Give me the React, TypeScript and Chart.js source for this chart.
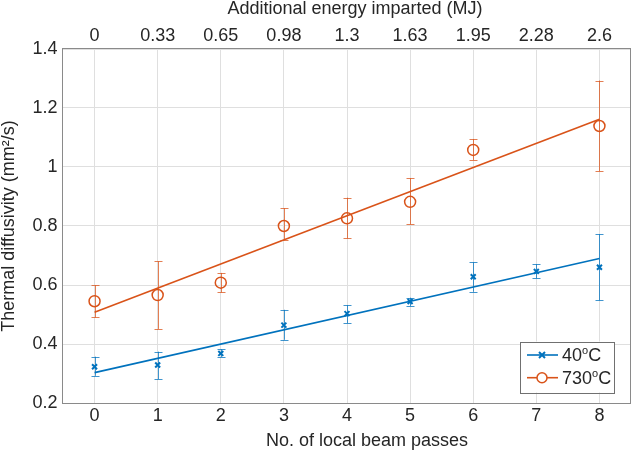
import React, { useEffect, useRef } from 'react';
import { Chart, registerables } from 'chart.js';

Chart.register(...registerables);

// ---------- data ----------
const passes = [0, 1, 2, 3, 4, 5, 6, 7, 8];
const energyLabels = ['0', '0.33', '0.65', '0.98', '1.3', '1.63', '1.95', '2.28', '2.6'];
const yTicks = [0.2, 0.4, 0.6, 0.8, 1.0, 1.2, 1.4];

const x40 = [0, 1, 2, 3, 4, 5, 6, 7, 8];
const mean40 = [0.323, 0.329, 0.368, 0.464, 0.503, 0.544, 0.628, 0.646, 0.660];
const low40 = [0.292, 0.281, 0.356, 0.414, 0.471, 0.529, 0.577, 0.623, 0.548];
const high40 = [0.357, 0.374, 0.382, 0.516, 0.531, 0.557, 0.677, 0.670, 0.772];

const x730 = [0, 1, 2, 3, 4, 5, 6, 8];
const mean730 = [0.545, 0.566, 0.608, 0.800, 0.826, 0.882, 1.058, 1.139];
const low730 = [0.490, 0.451, 0.575, 0.753, 0.758, 0.806, 1.024, 0.986];
const high730 = [0.599, 0.680, 0.641, 0.860, 0.896, 0.962, 1.095, 1.293];

const fitX = [0, 8];
const fit40 = [0.303, 0.690];
const fit730 = [0.508, 1.162];

const xTitle = 'No. of local beam passes';
const x2Title = 'Additional energy imparted (MJ)';
const yTitle = 'Thermal diffusivity (mm\u00B2/s)';
const legendEntries = [
  { base: '40', sup: 'o', unit: 'C' },
  { base: '730', sup: 'o', unit: 'C' },
];

// ---------- styles ----------
const BLUE = '#0072BD';
const ORANGE = '#D95319';
const BLUE_ERR = 'rgba(0,114,189,0.75)';
const ORANGE_ERR = 'rgba(217,83,25,0.75)';
const FONT = '"Liberation Sans", Arial, Helvetica, sans-serif';
const TEXT = '#262626';
const GRID = '#dfdfdf';
const FRAME = '#8a8a8a';

const errorBarPlugin = {
  id: 'errorBars',
  beforeDatasetsDraw(chart: any) {
    const { ctx } = chart;
    const xs = chart.scales.x;
    const ys = chart.scales.y;
    chart.data.datasets.forEach((ds: any) => {
      if (!ds.errLow) return;
      ctx.save();
      ctx.strokeStyle = ds.errColor;
      ctx.lineWidth = 1;
      ds.data.forEach((p: any, j: number) => {
        const px = Math.round(xs.getPixelForValue(p.x)) + 0.5;
        const yl = ys.getPixelForValue(ds.errLow[j]);
        const yh = ys.getPixelForValue(ds.errHigh[j]);
        ctx.beginPath();
        ctx.moveTo(px, yl);
        ctx.lineTo(px, yh);
        ctx.moveTo(px - 4, Math.round(yl) + 0.5);
        ctx.lineTo(px + 4, Math.round(yl) + 0.5);
        ctx.moveTo(px - 4, Math.round(yh) + 0.5);
        ctx.lineTo(px + 4, Math.round(yh) + 0.5);
        ctx.stroke();
      });
      ctx.restore();
    });
  },
};

const framePlugin = {
  id: 'frame',
  beforeDatasetsDraw(chart: any) {
    const { ctx, chartArea: a } = chart;
    ctx.save();
    ctx.strokeStyle = FRAME;
    ctx.lineWidth = 1;
    ctx.strokeRect(a.left - 0.5, a.top - 0.5, a.right - a.left, a.bottom - a.top + 1);
    ctx.restore();
  },
};

const titlesPlugin = {
  id: 'axisTitles',
  afterDraw(chart: any) {
    const { ctx, chartArea: a, height } = chart;
    const cx = (a.left + a.right) / 2;
    const cy = (a.top + a.bottom) / 2;
    ctx.save();
    ctx.fillStyle = TEXT;
    ctx.font = `18px ${FONT}`;
    ctx.textAlign = 'center';
    ctx.textBaseline = 'alphabetic';
    ctx.fillText(x2Title, cx + 8, 14);
    ctx.fillText(xTitle, cx + 20, height - 5.5);
    ctx.translate(14, cy);
    ctx.rotate(-Math.PI / 2);
    ctx.fillText(yTitle, 0, 0);
    ctx.restore();
  },
};

const legendPlugin = {
  id: 'customLegend',
  afterDraw(chart: any) {
    const { ctx, chartArea: a } = chart;
    const right = a.right - 17;
    const bottom = a.bottom - 10.5;
    const w = 94;
    const h = 51;
    const left = right - w;
    const top = bottom - h;
    ctx.save();
    ctx.fillStyle = '#ffffff';
    ctx.fillRect(left, top, w, h);
    ctx.strokeStyle = '#707070';
    ctx.lineWidth = 1;
    ctx.strokeRect(Math.round(left) + 0.5, Math.round(top) + 0.5, w, h);
    const colors = [BLUE, ORANGE];
    legendEntries.forEach((e, i) => {
      const y = top + 13.5 + i * 22.7;
      const c = colors[i];
      ctx.strokeStyle = c;
      ctx.lineWidth = 1.6;
      ctx.beginPath();
      ctx.moveTo(left + 7, y);
      ctx.lineTo(left + 38, y);
      ctx.stroke();
      const mx = left + 22;
      if (i === 0) {
        ctx.lineWidth = 2;
        ctx.beginPath();
        ctx.moveTo(mx - 3, y - 3);
        ctx.lineTo(mx + 3, y + 3);
        ctx.moveTo(mx - 3, y + 3);
        ctx.lineTo(mx + 3, y - 3);
        ctx.stroke();
      } else {
        ctx.lineWidth = 1.5;
        ctx.beginPath();
        ctx.arc(mx, y, 5, 0, Math.PI * 2);
        ctx.fillStyle = '#ffffff';
        ctx.fill();
        ctx.stroke();
      }
      ctx.fillStyle = TEXT;
      ctx.textAlign = 'left';
      ctx.textBaseline = 'middle';
      let tx = left + 42;
      ctx.font = `18px ${FONT}`;
      ctx.fillText(e.base, tx, y + 1);
      tx += ctx.measureText(e.base).width;
      ctx.font = `11px ${FONT}`;
      ctx.fillText(e.sup, tx, y - 4);
      tx += ctx.measureText(e.sup).width;
      ctx.font = `18px ${FONT}`;
      ctx.fillText(e.unit, tx, y + 1);
    });
    ctx.restore();
  },
};

const setTicks = (vals: number[]) => (scale: any) => {
  scale.ticks = vals.map((v) => ({ value: v }));
};

export default function App() {
  const ref = useRef<HTMLCanvasElement | null>(null);

  useEffect(() => {
    if (!ref.current) return;
    const tickFont = { family: FONT, size: 18 };
    const chart = new Chart(ref.current, {
      type: 'scatter',
      data: {
        datasets: [
          {
            type: 'line',
            label: 'fit 40',
            data: fitX.map((x, i) => ({ x, y: fit40[i] })),
            borderColor: BLUE,
            borderWidth: 1.6,
            pointRadius: 0,
            fill: false,
          },
          {
            type: 'line',
            label: 'fit 730',
            data: fitX.map((x, i) => ({ x, y: fit730[i] })),
            borderColor: ORANGE,
            borderWidth: 1.6,
            pointRadius: 0,
            fill: false,
          },
          {
            label: '40°C',
            data: x40.map((x, i) => ({ x, y: mean40[i] })),
            pointStyle: 'crossRot',
            pointRadius: 3.5,
            borderColor: BLUE,
            backgroundColor: BLUE,
            borderWidth: 2,
            errLow: low40,
            errHigh: high40,
            errColor: BLUE_ERR,
          } as any,
          {
            label: '730°C',
            data: x730.map((x, i) => ({ x, y: mean730[i] })),
            pointStyle: 'circle',
            pointRadius: 5.5,
            borderColor: ORANGE,
            backgroundColor: 'rgba(0,0,0,0)',
            borderWidth: 1.5,
            errLow: low730,
            errHigh: high730,
            errColor: ORANGE_ERR,
          } as any,
        ],
      },
      options: {
        animation: false,
        responsive: false,
        devicePixelRatio: 1,
        layout: { padding: { left: 0, right: 1, top: 0, bottom: 0 } },
        plugins: {
          legend: { display: false },
          tooltip: { enabled: false },
        },
        scales: {
          x: {
            type: 'linear',
            position: 'bottom',
            min: -0.5,
            max: 8.5,
            afterBuildTicks: setTicks(passes),
            afterFit: (s: any) => {
              s.height = 48;
            },
            ticks: {
              font: tickFont,
              color: TEXT,
              padding: 2,
              maxRotation: 0,
              autoSkip: false,
              callback: (v: any) => String(v),
            },
            grid: { color: GRID, drawTicks: false, lineWidth: 1 },
            border: { display: false },
          },
          x2: {
            type: 'linear',
            position: 'top',
            min: -0.5,
            max: 8.5,
            afterBuildTicks: setTicks(passes),
            afterFit: (s: any) => {
              s.height = 49;
            },
            ticks: {
              font: tickFont,
              color: TEXT,
              padding: 2,
              maxRotation: 0,
              autoSkip: false,
              callback: (v: any) => energyLabels[passes.indexOf(v)] ?? '',
            },
            grid: { display: false, drawTicks: false },
            border: { display: false },
          },
          y: {
            type: 'linear',
            min: 0.2,
            max: 1.4,
            afterBuildTicks: setTicks(yTicks),
            afterFit: (s: any) => {
              s.width = 63;
            },
            ticks: {
              font: tickFont,
              color: TEXT,
              padding: 5.5,
              callback: (v: any) => String(Math.round(Number(v) * 10) / 10),
            },
            grid: { color: GRID, drawTicks: false, lineWidth: 1 },
            border: { display: false },
          },
        },
      } as any,
      plugins: [framePlugin, errorBarPlugin, titlesPlugin, legendPlugin],
    });
    return () => chart.destroy();
  }, []);

  return (
    <div style={{ position: 'absolute', left: 0, top: 0, width: 638, height: 451, background: '#ffffff' }}>
      <canvas ref={ref} width={638} height={451} style={{ display: 'block', width: 638, height: 451 }} />
    </div>
  );
}
